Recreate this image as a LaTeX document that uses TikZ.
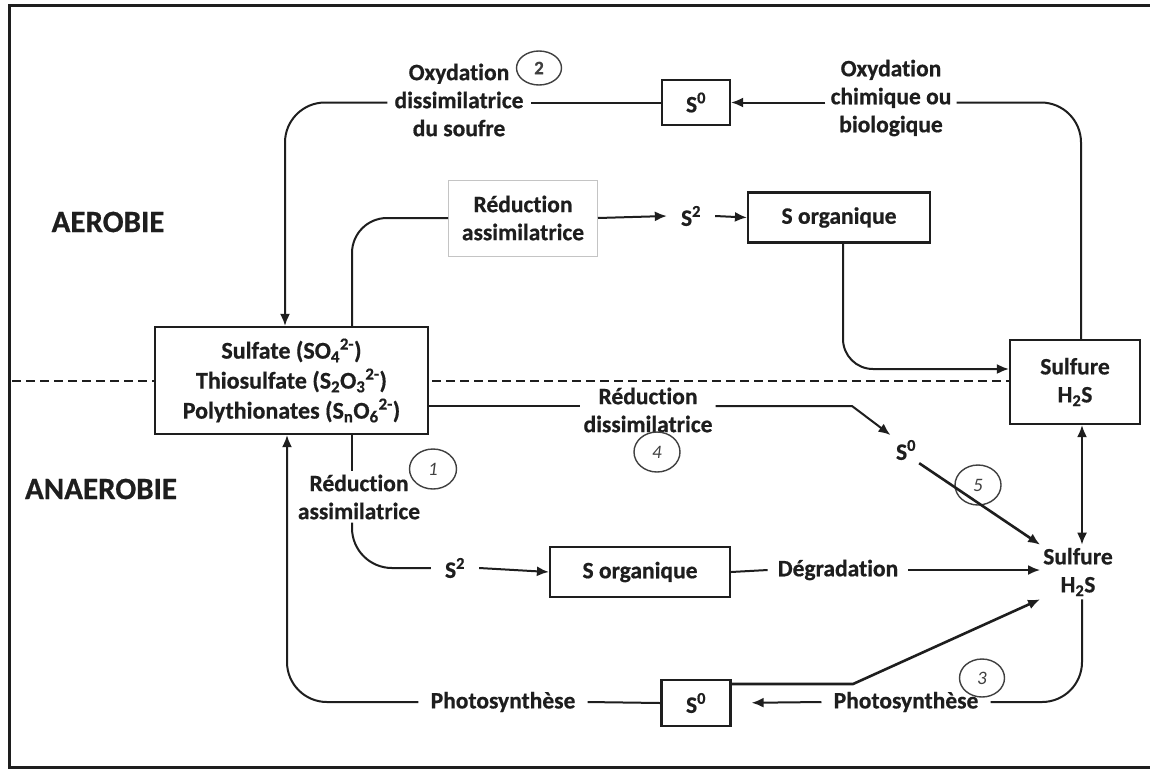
\documentclass[tikz,border=0pt]{standalone}
\usepackage{fontspec}
\setmainfont{Carlito}[Ligatures=NoCommon, BoldFeatures={FakeBold=0.6}]
\usetikzlibrary{arrows.meta,shapes.geometric,backgrounds}
\definecolor{ink}{HTML}{1E1E1E}
\definecolor{boxgray}{HTML}{C4C4C4}
\tikzset{
  txt/.style={font=\bfseries\fontsize{23.5}{28}\selectfont, text=ink, align=center, inner sep=3pt},
  bx/.style={txt, draw=ink, line width=2.2pt, fill=white},
  ln/.style={draw=ink, line width=2pt},
  arr/.style={ln, -{Latex[length=12pt,width=10pt]}},
  dblarr/.style={ln, {Latex[length=12pt,width=10pt]}-{Latex[length=12pt,width=10pt]}},
  num/.style={ellipse, draw=ink!85, line width=1.4pt, font=\itshape\fontsize{19}{19}\selectfont, text=ink!85, inner sep=0pt},
  zone/.style={font=\bfseries\fontsize{31}{32}\selectfont, text=ink},
}
\begin{document}
\begin{tikzpicture}[x=1pt,y=-1pt]
\useasboundingbox (0,0) rectangle (1150,769);
% nodes
\node[bx, font=\bfseries\fontsize{24}{30}\selectfont, minimum width=273pt, minimum height=107pt] (sulfate) at (291.5,380.5)
  {Sulfate (SO\textsubscript{4}\textsuperscript{2-})\\Thiosulfate (S\textsubscript{2}O\textsubscript{3}\textsuperscript{2-})\\Polythionates (S\textsubscript{n}O\textsubscript{6}\textsuperscript{2-})};
\node[txt, inner xsep=7pt] (oxd) at (459,100) {Oxydation\\dissimilatrice\\du soufre};
\node[bx, minimum width=68pt, minimum height=45pt] (s0top) at (696,102.5) {S\textsuperscript{0}};
\node[txt, inner xsep=5pt] (oxc) at (891,98) {Oxydation\\chimique ou\\biologique};
\node[bx, minimum width=130pt, minimum height=84pt] (sulfup) at (1075,382) {Sulfure\\H\textsubscript{2}S};
\node[txt, draw=boxgray, line width=1pt, fill=white, minimum width=149pt, minimum height=76pt] (redass) at (523,218) {Réduction\\assimilatrice};
\node[txt, inner xsep=14pt] (s2top) at (691,216) {S\textsuperscript{2}};
\node[bx, minimum width=182pt, minimum height=50pt] (sorgtop) at (839,217.5) {S organique};
\node[txt, inner xsep=3pt] (reddis) at (648,410) {Réduction\\dissimilatrice};
\node[txt] (s0mid) at (906,450) {S\textsuperscript{0}};
\node[txt] (sulflow) at (1078,572) {Sulfure\\H\textsubscript{2}S};
\node[txt] (redass2) at (359,497) {Réduction\\assimilatrice};
\node[txt, inner xsep=14pt] (s2low) at (455,568) {S\textsuperscript{2}};
\node[bx, minimum width=180pt, minimum height=50pt] (sorglow) at (640,572) {S organique};
\node[txt, inner xsep=10pt] (degr) at (838,570) {Dégradation};
\node[txt, inner xsep=12pt] (photo1) at (503,702) {Photosynthèse};
\node[bx, minimum width=69pt, minimum height=46pt] (s0low) at (696,703) {S\textsuperscript{0}};
\node[txt, inner xsep=12pt] (photo2) at (906,702) {Photosynthèse};
% circled numbers
\node[num, font=\bfseries\fontsize{19}{19}\selectfont, minimum width=45pt, minimum height=34pt] (c2) at (539,68) {2};
\node[num, minimum width=47pt, minimum height=40pt] (c1) at (433,469) {1};
\node[num, minimum width=45pt, minimum height=38pt] (c3) at (982,678) {3};
\node[num, minimum width=46pt, minimum height=40pt] (c4) at (657,452) {4};
\node[num, minimum width=46pt, minimum height=40pt] (c5) at (978,485) {5};
% zones
\node[zone] (aer) at (108,222) {AEROBIE};
\node[zone] (anaer) at (101,489) {ANAEROBIE};
% background: white page, dashed separator
\begin{pgfonlayer}{background}
\fill[white] (0,0) rectangle (1150,769);
\draw[ink, line width=1.5pt, dash pattern=on 9pt off 5pt] (12,381) -- (sulfup.west |- 0,381);
\end{pgfonlayer}
\draw[ink, line width=3pt] (1155,5) -- (9,5) -- (9,767) -- (1155,767);
% connectors - top
\draw[arr] (oxc.west |- s0top.east) -- (s0top.east);
\draw[ln, rounded corners=40pt] (oxc.east |- s0top.east) -| ([xshift=6pt]sulfup.north);
\draw[ln] (s0top.west) -- (oxd.east |- s0top.west);
\draw[arr, rounded corners=40pt] (oxd.west |- s0top.west) -| ([xshift=-6.5pt]sulfate.north);
\coordinate (jt) at ([xshift=60.5pt]sulfate.north);
\draw[ln, rounded corners=35pt] (jt) |- (redass.west);
\draw[arr] (redass.east) -- (s2top.west);
\draw[arr] (s2top.east) -- (sorgtop.west);
\draw[arr, rounded corners=30pt] ([xshift=4pt]sorgtop.south) |- ([yshift=13pt]sulfup.west);
% middle
\coordinate (kink) at (852,406);
\draw[ln] (sulfate.east |- kink) -- (reddis.west |- kink);
\draw[arr, shorten >=3pt] (reddis.east |- kink) -- (kink) -- (s0mid.north west);
\draw[arr, line width=2.6pt] (s0mid.south east) -- (sulflow.north west);
\draw[dblarr] ([xshift=7pt]sulfup.south) -- ([xshift=7pt]sulfup.south |- sulflow.north);
% bottom
\coordinate (jb) at ([xshift=60.5pt]sulfate.south);
\draw[ln] (jb) -- (jb |- redass2.north);
\draw[ln, rounded corners=40pt] (jb |- redass2.south) |- (s2low.west);
\draw[arr] (s2low.east) -- (sorglow.west);
\draw[ln] (sorglow.east) -- (degr.west);
\draw[arr] (degr.east) -- (degr.east -| sulflow.west);
\draw[ln, rounded corners=40pt] ([xshift=4pt]sulflow.south) |- (photo2.east);
\draw[arr, shorten >=20pt] (photo2.west) -- (s0low.east);
\coordinate (pk) at (853,684);
\draw[arr, line width=2.6pt] (s0low.east |- pk) -- (pk) -- (sulflow.south west);
\draw[ln] (s0low.west) -- (photo1.east);
\draw[arr, rounded corners=40pt] (photo1.west) -| ([xshift=-4.5pt]sulfate.south);
\end{tikzpicture}
\end{document}
